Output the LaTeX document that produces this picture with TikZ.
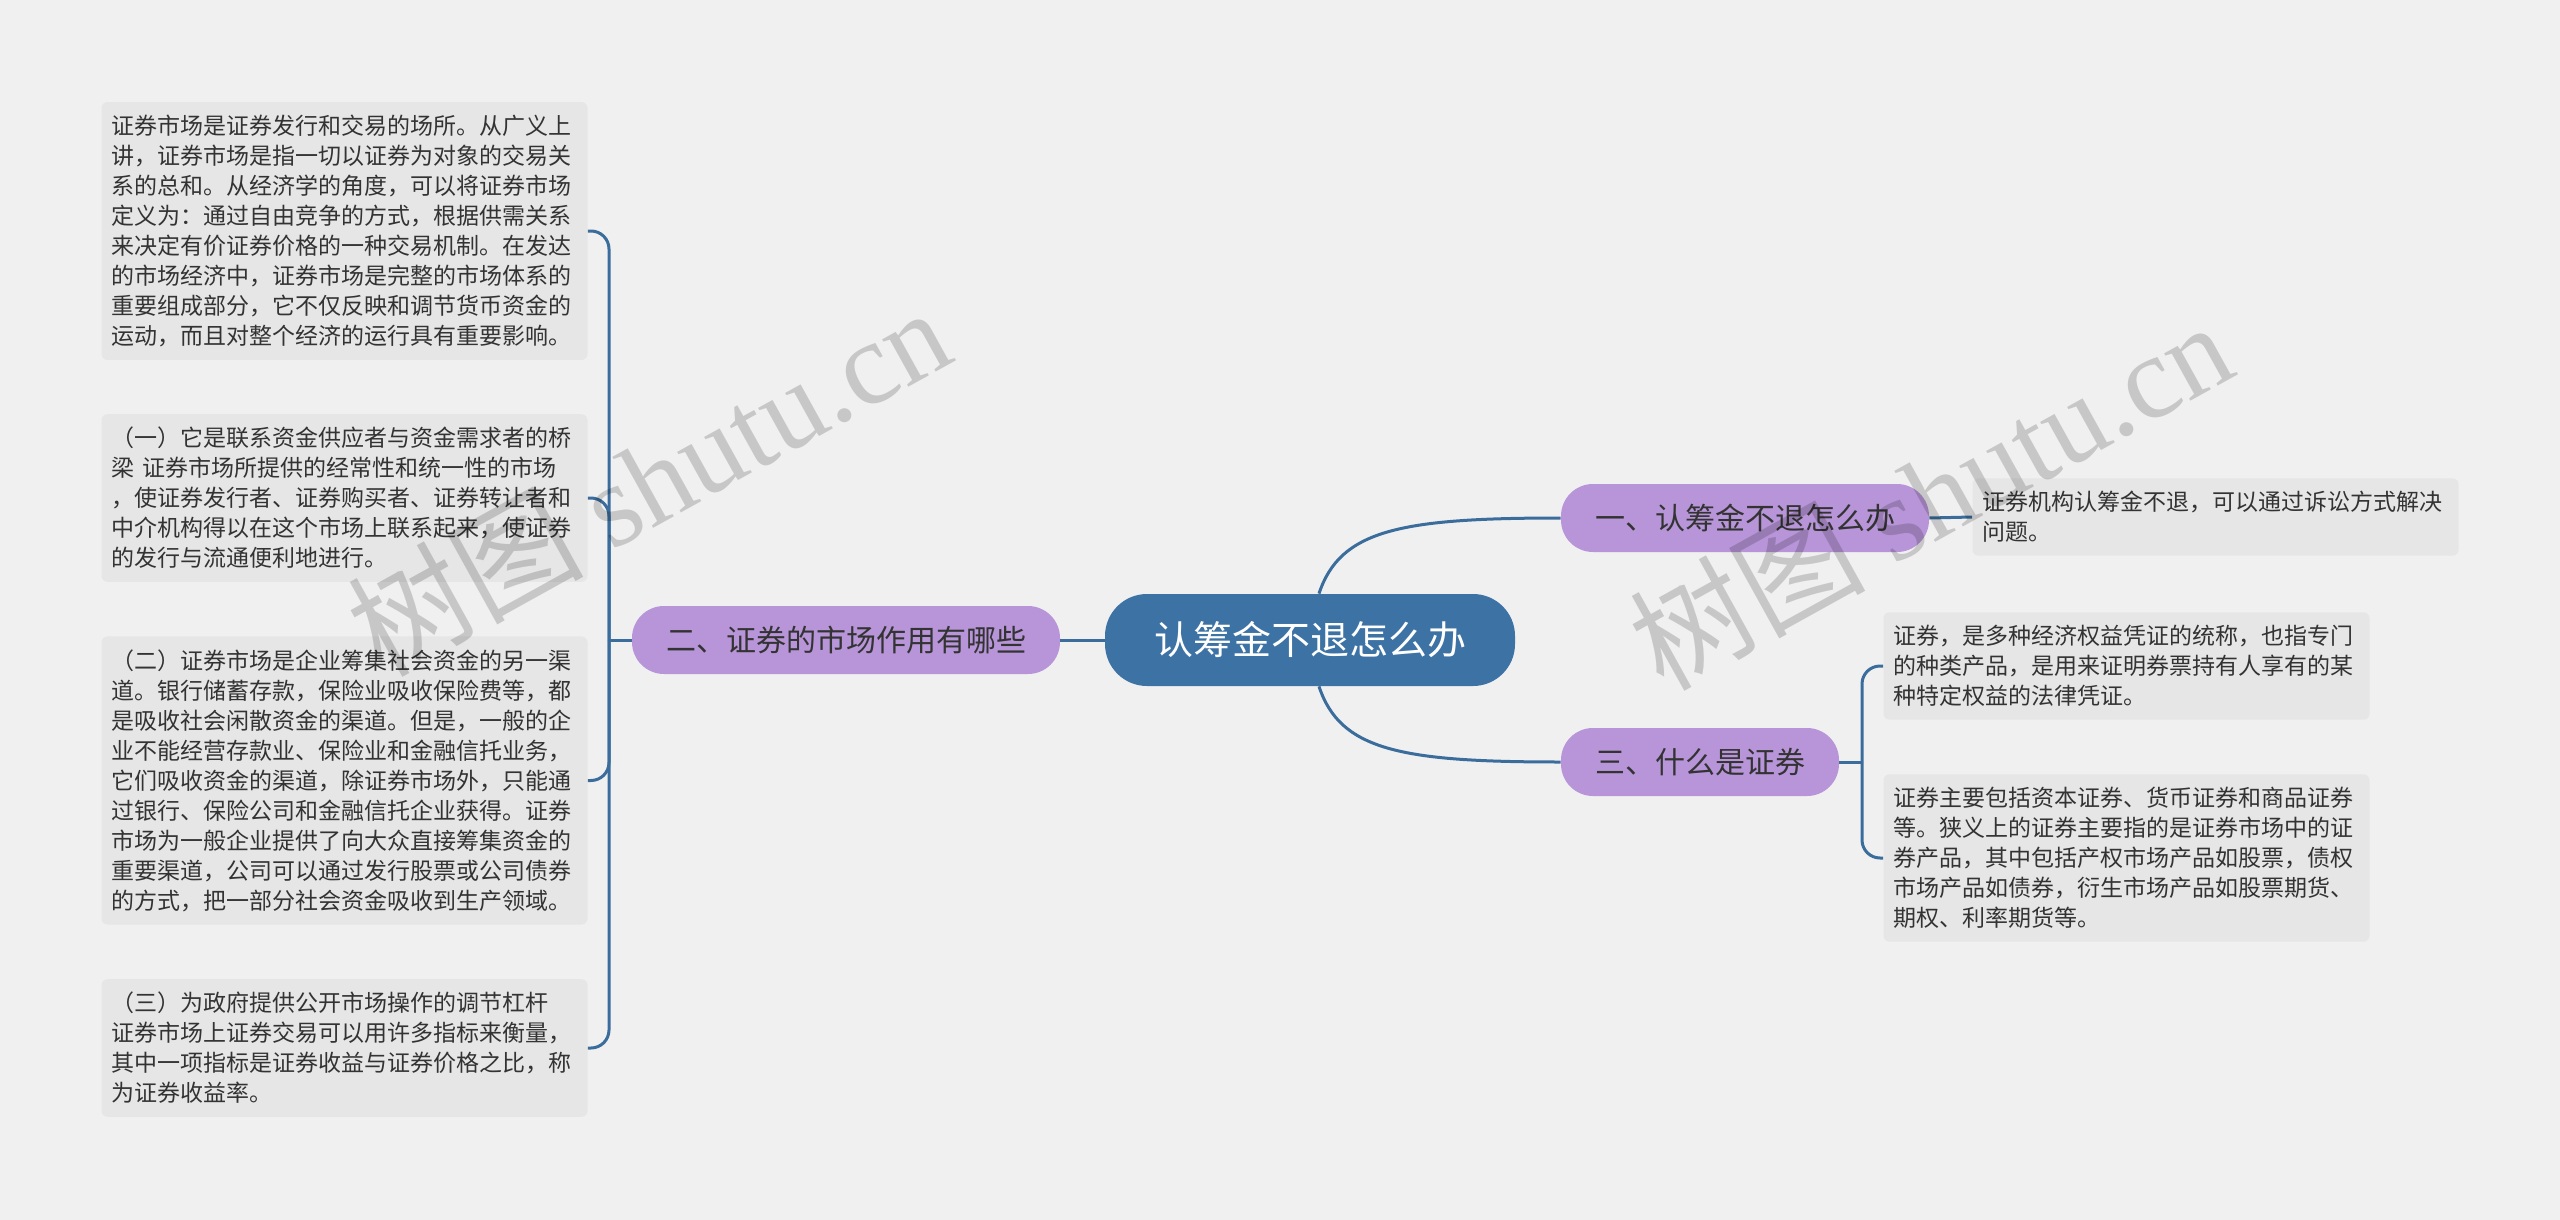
\documentclass[tikz,border=0pt]{standalone}
\usepackage{fontspec}
\setmainfont{Noto Sans CJK SC}
\newfontfamily\wmserif{Liberation Serif}
\usetikzlibrary{positioning}
\definecolor{mmBg}{RGB}{240,240,240}
\definecolor{mmRoot}{RGB}{61,114,164}
\definecolor{mmTopic}{RGB}{183,149,216}
\definecolor{mmLeaf}{RGB}{230,230,230}
\definecolor{mmLine}{RGB}{58,108,156}
\definecolor{mmText}{RGB}{51,51,51}

\begin{document}
\begin{tikzpicture}[x=0.5pt, y=-0.5pt,
    rootbox/.style={fill=mmRoot, rounded corners=21pt, minimum height=46pt,
      inner xsep=24.5pt, text=white, font=\fontsize{19.5pt}{22pt}\selectfont},
    topicbox/.style={fill=mmTopic, rounded corners=16pt, minimum height=34pt,
      inner xsep=17pt, text=mmText, font=\fontsize{15pt}{18pt}\selectfont},
    leafbox/.style={fill=mmLeaf, rounded corners=3pt, text width=233pt,
      inner xsep=5pt, inner ysep=6.5pt, align=left, text=mmText,
      font=\fontsize{11.5pt}{15pt}\selectfont},
    link/.style={draw=mmLine, line width=1.5pt, rounded corners=9pt},
    wmark/.style={text=black, opacity=0.17, rotate=29,
      font=\fontsize{59pt}{62pt}\selectfont}
  ]
    \fill[mmBg] (0,0) rectangle (2560,1220);
    \useasboundingbox (0,0) rectangle (2560,1220);

    % centre and main topics
    \node[rootbox] (root) at (1310,640) {认筹金不退怎么办};
    \node[topicbox] (topicL) at (846,640) {二、证券的市场作用有哪些};
    \node[topicbox] (topicR1) at (1745,518) {一、认筹金不退怎么办};
    \node[topicbox] (topicR3) at (1700,762) {三、什么是证券};

    % left leaves
    \node[leafbox] (leafL1) at (344.5,231) {%
      证券市场是证券发行和交易的场所。从广义上\\
      讲，证券市场是指一切以证券为对象的交易关\\
      系的总和。从经济学的角度，可以将证券市场\\
      定义为：通过自由竞争的方式，根据供需关系\\
      来决定有价证券价格的一种交易机制。在发达\\
      的市场经济中，证券市场是完整的市场体系的\\
      重要组成部分，它不仅反映和调节货币资金的\\
      运动，而且对整个经济的运行具有重要影响。};
    \node[leafbox] (leafL2) at (344.5,498) {%
      （一）它是联系资金供应者与资金需求者的桥\\
      梁 证券市场所提供的经常性和统一性的市场\\
      ，使证券发行者、证券购买者、证券转让者和\\
      中介机构得以在这个市场上联系起来，使证券\\
      的发行与流通便利地进行。};
    \node[leafbox] (leafL3) at (344.5,780.5) {%
      （二）证券市场是企业筹集社会资金的另一渠\\
      道。银行储蓄存款，保险业吸收保险费等，都\\
      是吸收社会闲散资金的渠道。但是，一般的企\\
      业不能经营存款业、保险业和金融信托业务，\\
      它们吸收资金的渠道，除证券市场外，只能通\\
      过银行、保险公司和金融信托企业获得。证券\\
      市场为一般企业提供了向大众直接筹集资金的\\
      重要渠道，公司可以通过发行股票或公司债券\\
      的方式，把一部分社会资金吸收到生产领域。};
    \node[leafbox] (leafL4) at (344.5,1048) {%
      （三）为政府提供公开市场操作的调节杠杆\\
      证券市场上证券交易可以用许多指标来衡量，\\
      其中一项指标是证券收益与证券价格之比，称\\
      为证券收益率。};

    % right leaves
    \node[leafbox] (leafR1) at (2215.5,517) {%
      证券机构认筹金不退，可以通过诉讼方式解决\\
      问题。};
    \node[leafbox] (leafR2) at (2126.5,666) {%
      证券，是多种经济权益凭证的统称，也指专门\\
      的种类产品，是用来证明券票持有人享有的某\\
      种特定权益的法律凭证。};
    \node[leafbox] (leafR3) at (2126.5,858) {%
      证券主要包括资本证券、货币证券和商品证券\\
      等。狭义上的证券主要指的是证券市场中的证\\
      券产品，其中包括产权市场产品如股票，债权\\
      市场产品如债券，衍生市场产品如股票期货、\\
      期权、利率期货等。};

    % connectors
    \coordinate (knotL) at (609,640);
    \coordinate (knotR) at (1862,762);
    \draw[link] (root.west) -- (topicL.east);
    \draw[link] ([xshift=4.5pt]root.north) .. controls (1340,530) and (1400,518) .. (topicR1.west);
    \draw[link] ([xshift=4.5pt]root.south) .. controls (1340,750) and (1400,762) .. (topicR3.west);
    \draw[link] (topicL.west) -- (knotL);
    \foreach \leaf in {leafL1,leafL2,leafL3,leafL4}
      \draw[link] (knotL) |- (\leaf.east);
    \draw[link] (topicR1.east) -- (leafR1.west);
    \draw[link] (topicR3.east) -- (knotR);
    \foreach \leaf in {leafR2,leafR3}
      \draw[link] (knotR) |- (\leaf.west);

    % watermarks
    \node[wmark] (wmL) at (648,480) {树图 {\wmserif shutu.cn}};
    \node[wmark] (wmR) at (1930,494) {树图 {\wmserif shutu.cn}};
  \end{tikzpicture}
\end{document}
